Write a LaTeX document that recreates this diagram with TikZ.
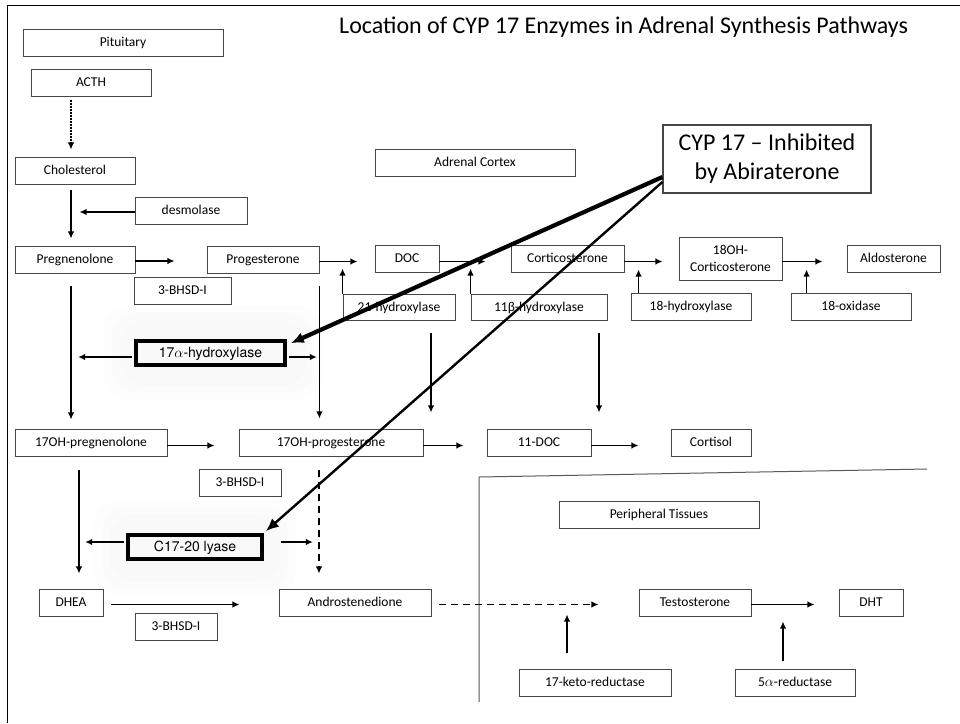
\documentclass[tikz,border=0pt]{standalone}
\usepackage{fontspec}
\setmainfont{Carlito}
\newfontfamily\helv{TeX Gyre Heros}
\usetikzlibrary{arrows.meta}
\newcommand\mybox[7][]{\node[box,#1,minimum width={(#5)-(#3)},minimum height={(#6)-(#4)}] (#2) at ({((#3)+(#5))/2},{((#4)+(#6))/2}) {#7};}
\begin{document}
\begin{tikzpicture}[x=1pt,y=-1pt,
  box/.style={draw=black!72,line width=0.9pt,inner sep=0pt,text height=10pt,text depth=2pt,font=\fontsize{13.5}{17}\selectfont},
  twoline/.style={align=center,text height=,text depth=},
  boldbox/.style={draw=black,line width=3.6pt,text height=10.5pt,text depth=2.5pt,font=\helv\fontsize{14}{16}\selectfont},
  callout/.style={twoline,line width=1.2pt,font=\fontsize{24}{29}\selectfont},
  arr/.style={line width=1.3pt,-{Latex[length=7pt,width=6.5pt]}},
  dashline/.style={dash pattern=on 7pt off 5pt},
  dotline/.style={dash pattern=on 1.5pt off 1.5pt},
  cyparrow/.style={-{Latex[length=13pt,width=11pt]}},
  glow/.style={fill=black,opacity=0.008,rounded corners=24pt}]
\useasboundingbox (0,0) rectangle (960,723);
\fill[white] (0,0) rectangle (960,723);
% frame
\draw[line width=1.6pt] (7.5,723) -- (7.5,5.5) -- (960,5.5);
% title
\node[anchor=base west,inner sep=0pt,font=\fontsize{24}{28}\selectfont] (title) at (339,33) {Location of CYP 17 Enzymes in Adrenal Synthesis Pathways};
% faint glows behind the CYP 17 enzyme boxes
\fill[glow] (104,306) rectangle (322,400);
\fill[glow] (112,313) rectangle (314,393);
\fill[glow] (120,320) rectangle (306,386);
\fill[glow] (94,500) rectangle (296,596);
\fill[glow] (102,507) rectangle (288,589);
\fill[glow] (110,514) rectangle (280,582);
% divider
\draw[line width=1pt,black!65] (479,702) -- (479,477) -- (927,469);
% boxes
\mybox{pit}{23}{29}{223}{56}{Pituitary}
\mybox{acth}{31}{69}{151}{96}{ACTH}
\mybox{chol}{15}{157}{135}{184}{Cholesterol}
\mybox{desm}{135}{197}{247}{224}{desmolase}
\mybox{preg}{15}{246}{135}{273}{Pregnenolone}
\mybox{bhsda}{134}{277}{231}{304}{3-BHSD-I}
\mybox{prog}{207}{246}{319}{273}{Progesterone}
\mybox{adc}{375}{149}{575}{176}{Adrenal Cortex}
\mybox{doc}{375}{245}{439}{272}{DOC}
\mybox{cort}{511}{245}{624}{272}{Corticosterone}
\mybox[twoline]{ohc}{679}{237}{782}{280}{18OH-\\Corticosterone}
\mybox{aldo}{847}{245}{940}{272}{Aldosterone}
\mybox{hyda}{343}{294}{455}{320}{21-hydroxylase}
\mybox{hydb}{471}{294}{607}{320}{11β-hydroxylase}
\mybox{hydc}{631}{293}{751}{320}{18-hydroxylase}
\mybox{oxid}{791}{293}{911}{320}{18-oxidase}
\mybox[callout]{cyp}{663}{125}{871}{193}{CYP 17 – Inhibited\\by Abiraterone}
\mybox[boldbox]{hseventeen}{136}{341}{285}{365}{17$\alpha$-hydroxylase}
\mybox{ohpreg}{15}{429}{167}{456}{17OH-pregnenolone}
\mybox{ohprog}{239}{429}{423}{456}{17OH-progesterone}
\mybox{doceleven}{487}{429}{591}{456}{11-DOC}
\mybox{cortisol}{671}{429}{751}{456}{Cortisol}
\mybox{bhsdb}{199}{469}{281}{496}{3-BHSD-I}
\mybox[boldbox]{lyase}{128}{535}{262}{559}{C17-20 lyase}
\mybox{dhea}{39}{589}{103}{616}{DHEA}
\mybox{bhsdc}{135}{613}{217}{640}{3-BHSD-I}
\mybox{andro}{279}{589}{431}{616}{Androstenedione}
\mybox{perip}{559}{501}{759}{528}{Peripheral Tissues}
\mybox{testo}{639}{589}{751}{616}{Testosterone}
\mybox{dht}{839}{589}{903}{616}{DHT}
\mybox{keto}{519}{669}{671}{696}{17-keto-reductase}
\mybox{redu}{735}{669}{855}{696}{5$\alpha$-reductase}
% arrows
\draw[arr,dotline] ([xshift=-20pt,yshift=-4pt]acth.south) -- ++(0,49);
\draw[arr] ([xshift=-4pt,yshift=-6pt]chol.south) -- ++(0,48);
\draw[arr] ([yshift=-1.5pt]desm.west) -- ++(-55,0);
\draw[arr] ([yshift=-1.5pt]preg.east) -- ++(39,0);
\draw[arr] ([yshift=-2pt]prog.east) -- ++(38,0);
\draw[arr] ([yshift=-3pt]doc.east) -- ++(46,0);
\draw[arr] ([yshift=-3pt]cort.east) -- ++(38,0);
\draw[arr] ([yshift=-3pt]ohc.east) -- ++(40,0);
\draw[arr] (hyda.north west) -- ++(0,-25);
\draw[arr] (hydb.north west) -- ++(0,-25);
\draw[arr] ([xshift=8pt]hydc.north west) -- ++(0,-23);
\draw[arr] ([xshift=16pt]oxid.north west) -- ++(0,-23);
\draw[arr] ([xshift=-4pt,yshift=-13pt]preg.south) -- ++(0,133);
\draw[arr] ([yshift=-13pt]prog.south east) -- ++(0,132);
\draw[arr] ([xshift=-2pt,yshift=-4pt]hseventeen.west) -- ++(-54,0);
\draw[arr] ([xshift=2pt,yshift=-4pt]hseventeen.east) -- ++(28,0);
\draw[arr] ([xshift=32pt,yshift=-13pt]hyda.south) -- ++(0,79);
\draw[arr] ([xshift=60pt,yshift=-13pt]hydb.south) -- ++(0,79);
\draw[arr] ([yshift=-3pt]ohpreg.east) -- ++(47,0);
\draw[arr] ([yshift=-3pt]ohprog.east) -- ++(40,0);
\draw[arr] ([yshift=-3pt]doceleven.east) -- ++(47,0);
\draw[arr] ([xshift=-12pt,yshift=-14pt]ohpreg.south) -- ++(0,103);
\draw[arr,dashline] ([xshift=-12pt,yshift=-14pt]ohprog.south) -- ++(0,103);
\draw[arr] ([xshift=-2pt,yshift=5pt]lyase.west) -- ++(-39,0);
\draw[arr] ([xshift=17pt,yshift=5pt]lyase.east) -- ++(32,0);
\draw[arr] ([xshift=8pt,yshift=-2pt]dhea.east) -- ++(128,0);
\draw[arr,dashline] ([xshift=8pt,yshift=-2pt]andro.east) -- ++(159,0);
\draw[arr] ([yshift=-2pt]testo.east) -- ++(63,0);
\draw[arr] ([xshift=-28pt,yshift=16pt]keto.north) -- ++(0,-38);
\draw[arr] ([xshift=-12pt,yshift=8pt]redu.north) -- ++(0,-39);
% CYP17 callout arrows
\draw[cyparrow,line width=4.2pt] ([yshift=-18pt]cyp.west) -- ([xshift=4pt,yshift=-4pt]hseventeen.north east);
\draw[cyparrow,line width=2.4pt] ([yshift=-23pt]cyp.west) -- ([xshift=2pt,yshift=2pt]lyase.north east);
\end{tikzpicture}
\end{document}
